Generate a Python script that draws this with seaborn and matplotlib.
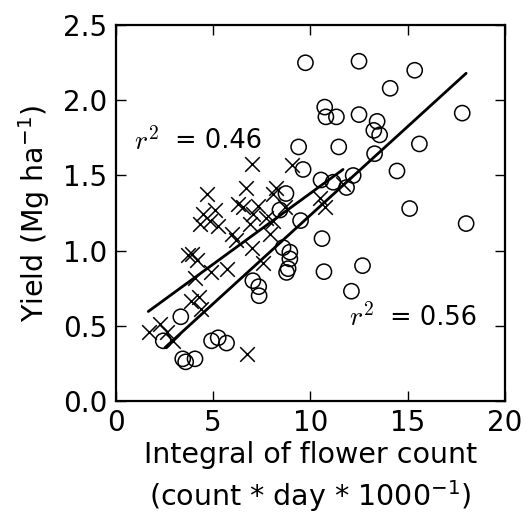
import numpy as np
import pandas as pd
import matplotlib
matplotlib.use("Agg")
import matplotlib.pyplot as plt
import seaborn as sns

# ---- data ----
circle_x = [9.75, 12.5, 15.36, 14.1, 10.74, 10.8, 11.34, 12.5, 13.43, 13.26, 13.56, 17.8,
            9.4, 11.46, 13.3, 15.6, 9.63, 10.55, 11.17, 12.2, 11.86, 14.45, 15.1, 18.0,
            8.75, 8.44, 9.5, 10.6, 8.6, 8.95, 8.95, 8.86, 8.78, 10.7, 12.68, 12.11,
            7.05, 7.35, 7.37, 3.35, 2.45, 4.93, 5.27, 5.7, 3.45, 3.6, 4.08]
circle_y = [2.25, 2.26, 2.20, 2.08, 1.955, 1.89, 1.89, 1.905, 1.86, 1.80, 1.77, 1.915,
            1.69, 1.69, 1.645, 1.71, 1.54, 1.47, 1.455, 1.50, 1.42, 1.53, 1.28, 1.18,
            1.38, 1.27, 1.20, 1.08, 1.02, 0.99, 0.945, 0.88, 0.855, 0.86, 0.90, 0.73,
            0.80, 0.76, 0.70, 0.56, 0.40, 0.40, 0.42, 0.385, 0.28, 0.26, 0.28]

cross_x = [1.7, 2.3, 2.62, 2.96, 3.73, 3.9, 4.16, 4.1, 4.9, 5.7, 3.85, 4.3, 4.38, 6.73,
           7.58, 7.0, 4.71, 5.1, 4.5, 4.33, 4.85, 5.27, 5.96, 6.18, 6.3, 6.68, 7.0, 9.05,
           8.25, 7.33, 8.09, 7.75, 6.9, 7.92, 8.1, 8.69, 10.5, 10.74, 11.68, 7.07, 6.55]
cross_y = [0.46, 0.51, 0.46, 0.40, 0.97, 0.98, 0.94, 0.82, 0.86, 0.88, 0.667, 0.69, 0.61, 0.31,
           0.92, 1.02, 1.378, 1.27, 1.245, 1.18, 1.2, 1.167, 1.11, 1.07, 1.31, 1.42, 1.575, 1.57,
           1.42, 1.30, 1.378, 1.22, 1.18, 1.11, 1.2, 1.29, 1.35, 1.29, 1.44, 1.245, 1.29]

# fitted regression lines (end points as shown in the reference)
fit_cross_x = [1.68, 11.68]
fit_cross_y = [0.595, 1.54]
fit_circle_x = [2.54, 18.0]
fit_circle_y = [0.355, 2.18]

r2_labels = ["0.46", "0.56"]
x_ticks = [0, 5, 10, 15, 20]
y_ticks = [0.0, 0.5, 1.0, 1.5, 2.0, 2.5]

sns.set_style("ticks")
plt.rcParams["font.family"] = ["DejaVu Sans"]
for k in ["text.color", "axes.labelcolor", "xtick.color", "ytick.color", "axes.edgecolor"]:
    plt.rcParams[k] = "black"
plt.rcParams["xtick.direction"] = "in"
plt.rcParams["ytick.direction"] = "in"

fig = plt.figure(figsize=(5.3, 5.14), dpi=100)
ax = fig.add_axes([0.218, 0.22, 0.735, 0.731])

circ = pd.DataFrame({"x": circle_x, "y": circle_y})
crs = pd.DataFrame({"x": cross_x, "y": cross_y})

sns.scatterplot(data=circ, x="x", y="y", marker="o", s=120, facecolor="none",
                edgecolor="black", linewidth=1.1, ax=ax, zorder=3)
sns.scatterplot(data=crs, x="x", y="y", marker="x", s=110, color="black",
                linewidth=1.1, ax=ax, zorder=3)
sns.lineplot(x=fit_cross_x, y=fit_cross_y, color="black", linewidth=2.0, ax=ax)
sns.lineplot(x=fit_circle_x, y=fit_circle_y, color="black", linewidth=2.0, ax=ax)

ax.text(0.95, 1.727, "$r^2$", fontsize=20, math_fontfamily="cm", va="center", ha="left")
ax.text(3.05, 1.727, "= " + r2_labels[0], fontsize=18.5, va="center", ha="left")
ax.text(11.98, 0.553, "$r^2$", fontsize=20, math_fontfamily="cm", va="center", ha="left")
ax.text(14.08, 0.553, "= " + r2_labels[1], fontsize=18.5, va="center", ha="left")

ax.set_xlim(0, 20)
ax.set_ylim(0, 2.5)
ax.set_xticks(x_ticks)
ax.set_yticks(y_ticks)
ax.set_xticklabels([str(t) for t in x_ticks])
ax.set_yticklabels([f"{t:.1f}" for t in y_ticks])
ax.tick_params(axis="both", which="both", direction="in", top=True, right=True,
               labelsize=20, length=7, width=1, colors="black")
ax.tick_params(axis="x", pad=6)
ax.tick_params(axis="y", pad=6)
for s in ax.spines.values():
    s.set_visible(True)
    s.set_linewidth(1.6)
    s.set_color("black")

ax.set_xlabel("Integral of flower count\n(count * day * 1000$^{-1}$)", fontsize=20.5,
              labelpad=3, linespacing=1.3)
ax.set_ylabel("Yield (Mg ha$^{-1}$)", fontsize=20.5, labelpad=8)

fig.savefig("out.png", dpi=100)
